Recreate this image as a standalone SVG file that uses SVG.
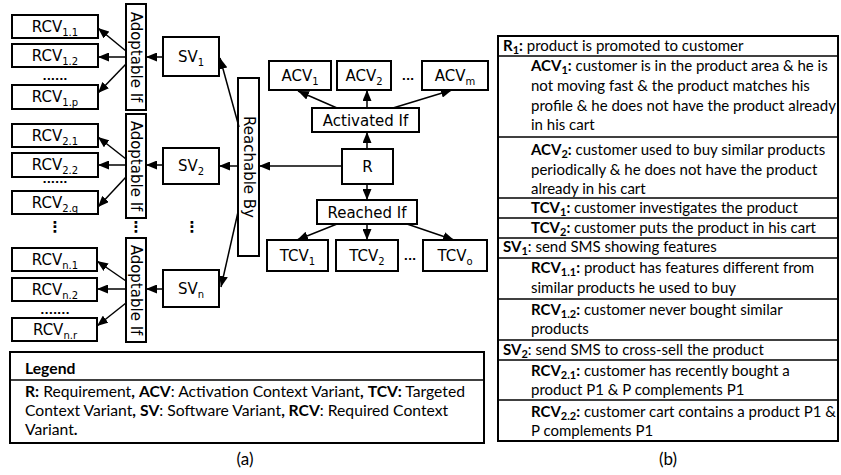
<svg xmlns="http://www.w3.org/2000/svg" width="841" height="475" viewBox="0 0 841 475">
<style>
.box{fill:#fff;stroke:#000;stroke-width:2}
.lbl{font-family:"DejaVu Sans",sans-serif;font-size:15px;text-anchor:middle;fill:#000}
.s{font-size:10px}
.dots{font-family:"DejaVu Sans",sans-serif;font-size:11px;font-weight:bold;text-anchor:middle}
.vd{font-family:"DejaVu Sans",sans-serif;font-size:15px;font-weight:bold;text-anchor:middle}
.t{font-family:Lato,"Liberation Sans",sans-serif;font-size:15px;fill:#000}
.lg{font-family:Lato,"Liberation Sans",sans-serif;font-size:15.7px;fill:#000}
.cap{font-family:Lato,"Liberation Sans",sans-serif;font-size:17px;fill:#000;text-anchor:middle}
.b{font-weight:bold}
.ts{font-size:11px}
.conn line{stroke:#000;stroke-width:1.5;marker-end:url(#ah)}
.grid line{stroke:#000;stroke-width:1.5}
</style>
<defs>
<marker id="ah" markerUnits="userSpaceOnUse" markerWidth="11" markerHeight="9" refX="11" refY="4.5" orient="auto">
<path d="M0,0 L11,4.5 L0,9 z" fill="#000"/>
</marker>
</defs>
<rect width="841" height="475" fill="#fff"/>

<!-- group 1 -->
<g id="rcv11"><rect class="box" x="12" y="15" width="86" height="23"/><text class="lbl" x="55" y="32">RCV<tspan class="s" dy="4">1.1</tspan></text></g>
<g id="rcv12"><rect class="box" x="12" y="44" width="86" height="23"/><text class="lbl" x="55" y="61">RCV<tspan class="s" dy="4">1.2</tspan></text></g>
<text class="dots" x="55" y="80">......</text>
<g id="rcv1p"><rect class="box" x="12" y="85" width="86" height="24"/><text class="lbl" x="55" y="102">RCV<tspan class="s" dy="4">1.p</tspan></text></g>
<g id="adopt1"><rect class="box" x="126" y="4" width="20" height="106"/><text class="lbl" transform="translate(136,57) rotate(90)" y="5">Adoptable If</text></g>
<g id="sv1"><rect class="box" x="163" y="37" width="56" height="39"/><text class="lbl" x="191" y="62">SV<tspan class="s" dy="4">1</tspan></text></g>

<!-- group 2 -->
<g id="rcv21"><rect class="box" x="12" y="124" width="86" height="23"/><text class="lbl" x="55" y="141">RCV<tspan class="s" dy="4">2.1</tspan></text></g>
<g id="rcv22"><rect class="box" x="12" y="153" width="86" height="24"/><text class="lbl" x="55" y="170">RCV<tspan class="s" dy="4">2.2</tspan></text></g>
<text class="dots" x="55" y="183">......</text>
<g id="rcv2q"><rect class="box" x="12" y="191" width="86" height="23"/><text class="lbl" x="55" y="208">RCV<tspan class="s" dy="4">2.q</tspan></text></g>
<g id="adopt2"><rect class="box" x="126" y="114" width="20" height="104"/><text class="lbl" transform="translate(136,166) rotate(90)" y="5">Adoptable If</text></g>
<g id="sv2"><rect class="box" x="163" y="148" width="56" height="36"/><text class="lbl" x="191" y="171">SV<tspan class="s" dy="4">2</tspan></text></g>

<text class="vd" x="55" y="232">⋮</text>
<text class="vd" x="136" y="232">⋮</text>
<text class="vd" x="192" y="232">⋮</text>

<!-- group n -->
<g id="rcvn1"><rect class="box" x="12" y="248" width="85" height="23"/><text class="lbl" x="55" y="265">RCV<tspan class="s" dy="4">n.1</tspan></text></g>
<g id="rcvn2"><rect class="box" x="12" y="278" width="85" height="23"/><text class="lbl" x="55" y="295">RCV<tspan class="s" dy="4">n.2</tspan></text></g>
<text class="dots" x="55" y="314">.......</text>
<g id="rcvnr"><rect class="box" x="12" y="318" width="85" height="23"/><text class="lbl" x="55" y="335">RCV<tspan class="s" dy="4">n.r</tspan></text></g>
<g id="adopt3"><rect class="box" x="126" y="238" width="20" height="104"/><text class="lbl" transform="translate(136,290) rotate(90)" y="5">Adoptable If</text></g>
<g id="svn"><rect class="box" x="163" y="270" width="56" height="37"/><text class="lbl" x="191" y="294">SV<tspan class="s" dy="4">n</tspan></text></g>

<g id="reach"><rect class="box" x="238" y="78" width="21" height="178"/><text class="lbl" transform="translate(248.5,167) rotate(90)" y="5">Reachable By</text></g>

<g id="acv1"><rect class="box" x="269" y="61" width="62" height="29"/><text class="lbl" x="300" y="81">ACV<tspan class="s" dy="4">1</tspan></text></g>
<g id="acv2"><rect class="box" x="337" y="61" width="54" height="29"/><text class="lbl" x="364" y="81">ACV<tspan class="s" dy="4">2</tspan></text></g>
<text class="dots" x="408" y="80">...</text>
<g id="acvm"><rect class="box" x="422" y="61" width="66" height="29"/><text class="lbl" x="455" y="81">ACV<tspan class="s" dy="4">m</tspan></text></g>
<g id="activated"><rect class="box" x="312" y="108" width="107" height="24"/><text class="lbl" x="365.5" y="126">Activated If</text></g>
<g id="r"><rect class="box" x="342" y="149" width="51" height="35"/><text class="lbl" x="367.5" y="172">R</text></g>
<g id="reached"><rect class="box" x="317" y="200" width="100" height="24"/><text class="lbl" x="367" y="218">Reached If</text></g>
<g id="tcv1"><rect class="box" x="267" y="240" width="61" height="31"/><text class="lbl" x="297.5" y="261">TCV<tspan class="s" dy="4">1</tspan></text></g>
<g id="tcv2"><rect class="box" x="336" y="240" width="62" height="31"/><text class="lbl" x="367" y="261">TCV<tspan class="s" dy="4">2</tspan></text></g>
<text class="dots" x="410" y="260">...</text>
<g id="tcvo"><rect class="box" x="423" y="240" width="64" height="31"/><text class="lbl" x="455" y="261">TCV<tspan class="s" dy="4">o</tspan></text></g>

<g class="conn" id="connectors">
<line x1="126" y1="51" x2="98" y2="28"/>
<line x1="126" y1="57" x2="98" y2="57"/>
<line x1="126" y1="64" x2="98" y2="93"/>
<line x1="163" y1="57" x2="146" y2="57"/>
<line x1="126" y1="159" x2="98" y2="137"/>
<line x1="126" y1="165" x2="98" y2="165"/>
<line x1="126" y1="177" x2="98" y2="207"/>
<line x1="163" y1="165" x2="146" y2="165"/>
<line x1="126" y1="281" x2="97" y2="261"/>
<line x1="126" y1="289" x2="97" y2="289"/>
<line x1="126" y1="303" x2="97" y2="326"/>
<line x1="163" y1="289" x2="146" y2="289"/>
<line x1="239" y1="127" x2="220" y2="58"/>
<line x1="238" y1="166" x2="219" y2="166"/>
<line x1="238" y1="212" x2="221" y2="287"/>
<line x1="342" y1="166" x2="259" y2="166"/>
<line x1="367" y1="149" x2="367" y2="132"/>
<line x1="337" y1="108" x2="298" y2="91"/>
<line x1="367" y1="108" x2="367" y2="90"/>
<line x1="393" y1="108" x2="452" y2="90"/>
<line x1="367" y1="184" x2="367" y2="200"/>
<line x1="337" y1="224" x2="297" y2="240"/>
<line x1="367" y1="224" x2="367" y2="240"/>
<line x1="407" y1="224" x2="454" y2="240"/>
</g>

<g id="legend">
<rect x="10" y="352" width="474" height="91" fill="none" stroke="#000" stroke-width="2"/>
<line x1="10" y1="380" x2="484" y2="380" stroke="#000" stroke-width="1.5"/>
<text class="lg b" x="25" y="374">Legend</text>
<text class="lg" x="25" y="397"><tspan class="b">R:</tspan> Requirement<tspan class="b">,</tspan> <tspan class="b">ACV</tspan>: Activation Context Variant<tspan class="b">,</tspan> <tspan class="b">TCV:</tspan> Targeted</text>
<text class="lg" x="25" y="416">Context Variant<tspan class="b">,</tspan> <tspan class="b">SV</tspan>: Software Variant<tspan class="b">, RCV</tspan>: Required Context</text>
<text class="lg" x="25" y="435">Variant<tspan class="b">.</tspan></text>
</g>
<text class="cap" x="245" y="465">(a)</text>

<g id="table">
<rect x="498" y="36" width="340" height="405" fill="none" stroke="#000" stroke-width="2"/>
<g class="grid">
<line x1="498" y1="56" x2="838" y2="56"/>
<line x1="498" y1="137" x2="838" y2="137"/>
<line x1="498" y1="198" x2="838" y2="198"/>
<line x1="498" y1="218" x2="838" y2="218"/>
<line x1="498" y1="238" x2="838" y2="238"/>
<line x1="498" y1="258" x2="838" y2="258"/>
<line x1="498" y1="299" x2="838" y2="299"/>
<line x1="498" y1="340" x2="838" y2="340"/>
<line x1="498" y1="360" x2="838" y2="360"/>
<line x1="498" y1="400" x2="838" y2="400"/>
</g>
<text class="t" x="503" y="51"><tspan class="b">R<tspan class="ts" dy="3">1</tspan><tspan dy="-3">:</tspan></tspan> product is promoted to customer</text>
<text class="t" x="531" y="71"><tspan class="b">ACV<tspan class="ts" dy="3">1</tspan><tspan dy="-3">:</tspan></tspan> customer is in the product area &amp; he is</text>
<text class="t" x="531" y="91">not moving fast &amp; the product matches his</text>
<text class="t" x="531" y="111">profile &amp; he does not have the product already</text>
<text class="t" x="531" y="130">in his cart</text>
<text class="t" x="531" y="155"><tspan class="b">ACV<tspan class="ts" dy="3">2</tspan><tspan dy="-3">:</tspan></tspan> customer used to buy similar products</text>
<text class="t" x="531" y="175">periodically &amp; he does not have the product</text>
<text class="t" x="531" y="194">already in his cart</text>
<text class="t" x="531" y="213"><tspan class="b">TCV<tspan class="ts" dy="3">1</tspan><tspan dy="-3">:</tspan></tspan> customer investigates the product</text>
<text class="t" x="531" y="233"><tspan class="b">TCV<tspan class="ts" dy="3">2</tspan><tspan dy="-3">:</tspan></tspan> customer puts the product in his cart</text>
<text class="t" x="503" y="252"><tspan class="b">SV<tspan class="ts" dy="3">1</tspan></tspan><tspan dy="-3">: send SMS showing features</tspan></text>
<text class="t" x="531" y="273"><tspan class="b">RCV<tspan class="ts" dy="3">1.1</tspan><tspan dy="-3">:</tspan></tspan> product has features different from</text>
<text class="t" x="531" y="293">similar products he used to buy</text>
<text class="t" x="531" y="315"><tspan class="b">RCV<tspan class="ts" dy="3">1.2</tspan><tspan dy="-3">:</tspan></tspan> customer never bought similar</text>
<text class="t" x="531" y="334">products</text>
<text class="t" x="503" y="355"><tspan class="b">SV<tspan class="ts" dy="3">2</tspan></tspan><tspan dy="-3">: send SMS to cross-sell the product</tspan></text>
<text class="t" x="531" y="376"><tspan class="b">RCV<tspan class="ts" dy="3">2.1</tspan><tspan dy="-3">:</tspan></tspan> customer has recently bought a</text>
<text class="t" x="531" y="395">product P1 &amp; P complements P1</text>
<text class="t" x="531" y="417"><tspan class="b">RCV<tspan class="ts" dy="3">2.2</tspan><tspan dy="-3">:</tspan></tspan> customer cart contains a product P1 &amp;</text>
<text class="t" x="531" y="436">P complements P1</text>
</g>
<text class="cap" x="668" y="465">(b)</text>
</svg>
